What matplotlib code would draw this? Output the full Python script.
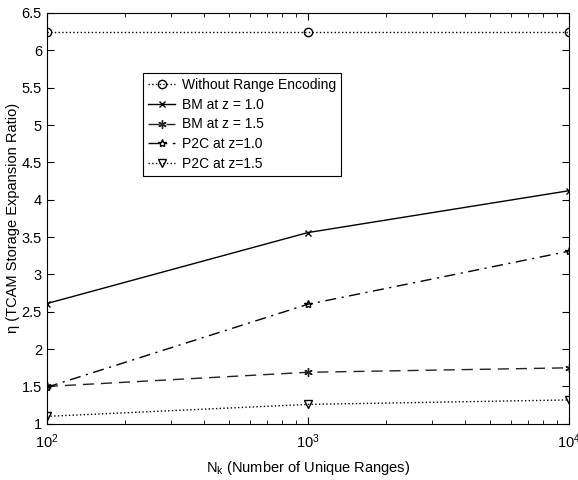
import matplotlib
matplotlib.use("Agg")
import matplotlib.pyplot as plt

plt.rcParams['font.family'] = ['Liberation Sans', 'DejaVu Sans']
plt.rcParams['mathtext.fontset'] = 'custom'
plt.rcParams['mathtext.rm'] = 'Liberation Sans'
plt.rcParams['mathtext.it'] = 'Liberation Sans:italic'

# data
n_k = [100, 1000, 10000]
without_enc = [6.25, 6.25, 6.25]
bm_z10 = [2.61, 3.56, 4.12]
bm_z15 = [1.50, 1.69, 1.75]
p2c_z10 = [1.49, 2.60, 3.31]
p2c_z15 = [1.10, 1.26, 1.32]

fig = plt.figure(figsize=(5.78, 4.8), dpi=100)
ax = fig.add_axes([0.081, 0.117, 0.903, 0.856])

ax.plot(n_k, without_enc, color='black', linestyle=':', linewidth=1.0,
        marker='o', markersize=6, markerfacecolor='none', label='Without Range Encoding')
ax.plot(n_k, bm_z10, color='black', linestyle='-', linewidth=1.0,
        marker='x', markersize=5, label='BM at z = 1.0')
ax.plot(n_k, bm_z15, color='#222222', linestyle=(0, (8, 5)), linewidth=1.0,
        marker=(6, 2, 0), markersize=6, label='BM at z = 1.5')
ax.plot(n_k, p2c_z10, color='black', linestyle=(0, (8, 4, 1.5, 4)), linewidth=1.0,
        marker='*', markersize=6, markerfacecolor='none', label='P2C at z=1.0')
ax.plot(n_k, p2c_z15, color='black', linestyle=':', linewidth=1.0,
        marker='v', markersize=6, markerfacecolor='none', label='P2C at z=1.5')

ax.set_xscale('log')
ax.set_xlim(100, 10000)
ax.set_ylim(1, 6.5)
ax.set_yticks([1, 1.5, 2, 2.5, 3, 3.5, 4, 4.5, 5, 5.5, 6, 6.5])
ax.set_yticklabels(['1', '1.5', '2', '2.5', '3', '3.5', '4', '4.5', '5', '5.5', '6', '6.5'])
ax.tick_params(which='both', direction='in', top=True, right=True, labelsize=10.5)
ax.tick_params(which='major', length=5)
ax.tick_params(which='minor', length=3)
ax.tick_params(axis='x', pad=6)

ax.set_xlabel(r'N$_\mathrm{k}$ (Number of Unique Ranges)', fontsize=10.5, labelpad=6)
ax.set_ylabel('η (TCAM Storage Expansion Ratio)', fontsize=10.5, labelpad=1)

leg = ax.legend(loc='upper left', bbox_to_anchor=(0.184, 0.854), borderaxespad=0,
                fontsize=10, handlelength=2.0, handletextpad=0.5, borderpad=0.35,
                labelspacing=0.42, fancybox=False, framealpha=1, edgecolor='black')
leg.get_frame().set_linewidth(0.8)

fig.savefig('out.png', dpi=100)
